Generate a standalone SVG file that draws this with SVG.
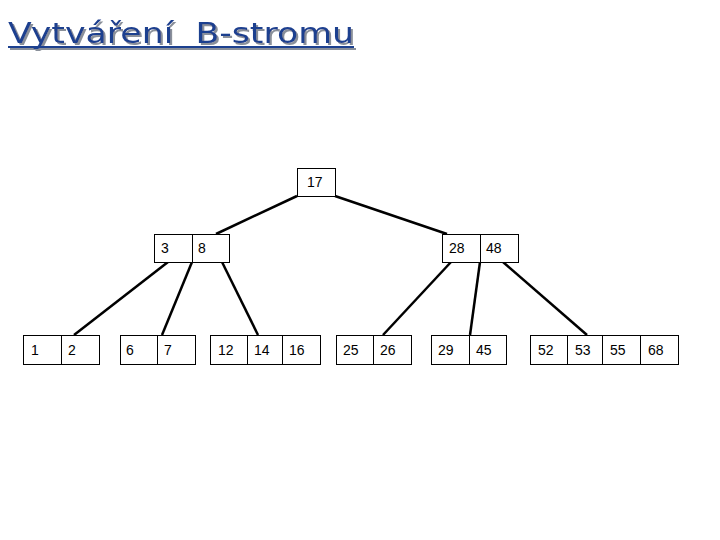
<svg xmlns="http://www.w3.org/2000/svg" width="720" height="540" viewBox="0 0 720 540">
<defs>
<filter id="sh" x="-5%" y="-20%" width="115%" height="160%">
<feDropShadow dx="2" dy="2" stdDeviation="0.6" flood-color="#8a909a" flood-opacity="1"/>
</filter>
</defs>
<style>
.t{font-family:"Liberation Sans",Arial,sans-serif;font-size:14px;fill:#000}
.b{fill:#fff;stroke:#000;stroke-width:1}
.c{stroke:#000;stroke-width:2.5;fill:none}
.title{font-family:"DejaVu Sans","Liberation Sans",sans-serif;font-size:29px;white-space:pre}
</style>
<rect width="720" height="540" fill="#fff"/>
<g id="title" filter="url(#sh)">
<text x="8" y="43" class="title" fill="#1f3f8f" textLength="346" lengthAdjust="spacingAndGlyphs">Vytváření  B-stromu</text>
<line x1="8" y1="47" x2="354" y2="47" stroke="#1f3f8f" stroke-width="2"/>
</g>
<g id="connectors">
<line class="c" x1="297" y1="196" x2="216" y2="234"/>
<line class="c" x1="335" y1="196" x2="447" y2="234"/>
<line class="c" x1="168" y1="262" x2="74" y2="335"/>
<line class="c" x1="192" y1="262" x2="162" y2="335"/>
<line class="c" x1="222" y1="262" x2="258" y2="335"/>
<line class="c" x1="451" y1="262" x2="383" y2="335"/>
<line class="c" x1="480" y1="262" x2="470" y2="335"/>
<line class="c" x1="503" y1="262" x2="587" y2="335"/>
</g>
<g id="n17">
<rect class="b" x="297.5" y="168.5" width="38" height="28"/>
<text class="t" x="307" y="187">17</text>
</g>
<g id="n3_8">
<rect class="b" x="154.5" y="234.5" width="38" height="28"/>
<rect class="b" x="192.5" y="234.5" width="37" height="28"/>
<text class="t" x="161" y="253">3</text>
<text class="t" x="198" y="253">8</text>
</g>
<g id="n28_48">
<rect class="b" x="442.5" y="234.5" width="38" height="28"/>
<rect class="b" x="480.5" y="234.5" width="38" height="28"/>
<text class="t" x="449" y="253">28</text>
<text class="t" x="486" y="253">48</text>
</g>
<g id="n1_2">
<rect class="b" x="23.5" y="335.5" width="38" height="29"/>
<rect class="b" x="61.5" y="335.5" width="38" height="29"/>
<text class="t" x="31" y="355">1</text>
<text class="t" x="68" y="355">2</text>
</g>
<g id="n6_7">
<rect class="b" x="120.5" y="335.5" width="37" height="29"/>
<rect class="b" x="157.5" y="335.5" width="38" height="29"/>
<text class="t" x="126" y="355">6</text>
<text class="t" x="164" y="355">7</text>
</g>
<g id="n12_14_16">
<rect class="b" x="210.5" y="335.5" width="37" height="29"/>
<rect class="b" x="247.5" y="335.5" width="35" height="29"/>
<rect class="b" x="282.5" y="335.5" width="38" height="29"/>
<text class="t" x="218" y="355">12</text>
<text class="t" x="254" y="355">14</text>
<text class="t" x="289" y="355">16</text>
</g>
<g id="n25_26">
<rect class="b" x="336.5" y="335.5" width="37" height="29"/>
<rect class="b" x="373.5" y="335.5" width="38" height="29"/>
<text class="t" x="343" y="355">25</text>
<text class="t" x="380" y="355">26</text>
</g>
<g id="n29_45">
<rect class="b" x="431.5" y="335.5" width="38" height="29"/>
<rect class="b" x="469.5" y="335.5" width="37" height="29"/>
<text class="t" x="438" y="355">29</text>
<text class="t" x="476" y="355">45</text>
</g>
<g id="n52_53_55_68">
<rect class="b" x="530.5" y="335.5" width="37" height="29"/>
<rect class="b" x="567.5" y="335.5" width="35" height="29"/>
<rect class="b" x="602.5" y="335.5" width="38" height="29"/>
<rect class="b" x="640.5" y="335.5" width="38" height="29"/>
<text class="t" x="538" y="355">52</text>
<text class="t" x="575" y="355">53</text>
<text class="t" x="610" y="355">55</text>
<text class="t" x="648" y="355">68</text>
</g>
</svg>
